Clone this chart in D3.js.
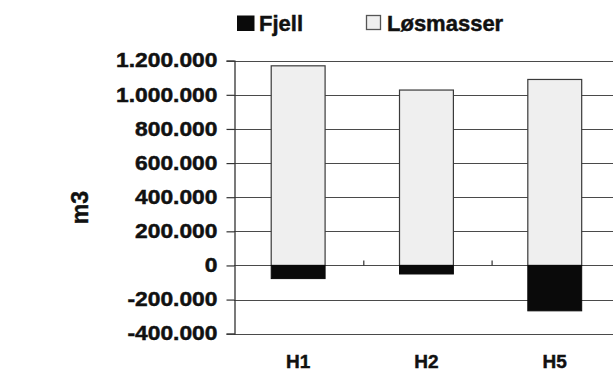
<!DOCTYPE html>
<html>
<head>
<meta charset="utf-8">
<script src="https://cdn.jsdelivr.net/npm/d3@7/dist/d3.min.js"></script>
<style>
  html, body { margin: 0; padding: 0; background: #fff; }
  svg { display: block; }
  text { font-family: "Liberation Sans", Arial, Helvetica, sans-serif; font-weight: bold; fill: #111; stroke: #111; stroke-width: 0.45px; }
</style>
</head>
<body>
<script>
const categories = ["H1", "H2", "H5"];
const fjell = [-77000, -50000, -266000];
const losmasser = [1170000, 1028000, 1090000];
const yTicks = [-400000, -200000, 0, 200000, 400000, 600000, 800000, 1000000, 1200000];
const seriesNames = ["Fjell", "Løsmasser"];
const yLabel = "m3";

const W = 613, H = 373;
const svg = d3.select("body").append("svg").attr("width", W).attr("height", H);

const x = d3.scaleBand().domain(categories).range([234, 234 + 3 * 128.3]).padding(0);
const y = d3.scaleLinear().domain([-400000, 1200000]).range([333.7, 60.7]);
const barW = x.bandwidth() * 0.42;

const fmt = v => d3.format(",")(v).replace(/,/g, ".").replace("−", "-");

// gridlines
svg.append("g").selectAll("line").data(yTicks).join("line")
  .attr("x1", 234).attr("x2", W + 20)
  .attr("y1", d => Math.round(y(d)) + 0.5).attr("y2", d => Math.round(y(d)) + 0.5)
  .attr("stroke", "#4a4a4a").attr("stroke-width", 1.2);

// y axis
const yAxis = d3.axisLeft(y).tickValues(yTicks).tickSize(8).tickPadding(7).tickFormat(fmt);
const gy = svg.append("g").attr("transform", "translate(234.5,0)").call(yAxis);
gy.select(".domain").attr("stroke", "#333").attr("stroke-width", 1.3);
gy.selectAll(".tick line").attr("stroke", "#333").attr("stroke-width", 1.2);
gy.selectAll(".tick text")
  .attr("font-size", 19.5)
  .attr("fill", "#111")
  .attr("font-family", "Liberation Sans, Arial, sans-serif")
  .attr("font-weight", "bold")
  .attr("transform", "scale(1.17,1)")
  .attr("x", -17 / 1.17);

// bars: Løsmasser (positive)
svg.append("g").selectAll("rect").data(categories).join("rect")
  .attr("x", d => x(d) + (x.bandwidth() - barW) / 2)
  .attr("width", barW)
  .attr("y", (d, i) => y(losmasser[i]))
  .attr("height", (d, i) => y(0) - y(losmasser[i]))
  .attr("fill", "#efefef").attr("stroke", "#3a3a3a").attr("stroke-width", 1.2);

// bars: Fjell (negative)
svg.append("g").selectAll("rect").data(categories).join("rect")
  .attr("x", d => x(d) + (x.bandwidth() - barW) / 2)
  .attr("width", barW)
  .attr("y", y(0))
  .attr("height", (d, i) => y(fjell[i]) - y(0))
  .attr("fill", "#0a0a0a").attr("stroke", "#0a0a0a").attr("stroke-width", 1);

// category ticks on zero line
svg.append("g").selectAll("line").data(categories.slice(1)).join("line")
  .attr("x1", d => x(d) + 1.5).attr("x2", d => x(d) + 1.5)
  .attr("y1", y(0)).attr("y2", y(0) - 5)
  .attr("stroke", "#333").attr("stroke-width", 1.2);

// category labels
svg.append("g").selectAll("text").data(categories).join("text")
  .attr("x", d => x(d) + x.bandwidth() / 2)
  .attr("y", 368)
  .attr("text-anchor", "middle")
  .attr("font-size", 19)
  .text(d => d);

// y label
svg.append("text")
  .attr("transform", "translate(88,207.5) rotate(-90)")
  .attr("text-anchor", "middle")
  .attr("font-size", 23)
  .text(yLabel);

// legend
const leg = svg.append("g");
leg.append("rect").attr("x", 237).attr("y", 15.5).attr("width", 17.5).attr("height", 15.5).attr("fill", "#0a0a0a");
leg.append("text").attr("x", 259).attr("y", 30.5).attr("font-size", 22).text(seriesNames[0]);
leg.append("rect").attr("x", 366.5).attr("y", 15.5).attr("width", 14).attr("height", 14)
  .attr("fill", "#efefef").attr("stroke", "#555").attr("stroke-width", 1.3);
leg.append("text").attr("x", 387).attr("y", 30.5).attr("font-size", 22).text(seriesNames[1]);
</script>
</body>
</html>
